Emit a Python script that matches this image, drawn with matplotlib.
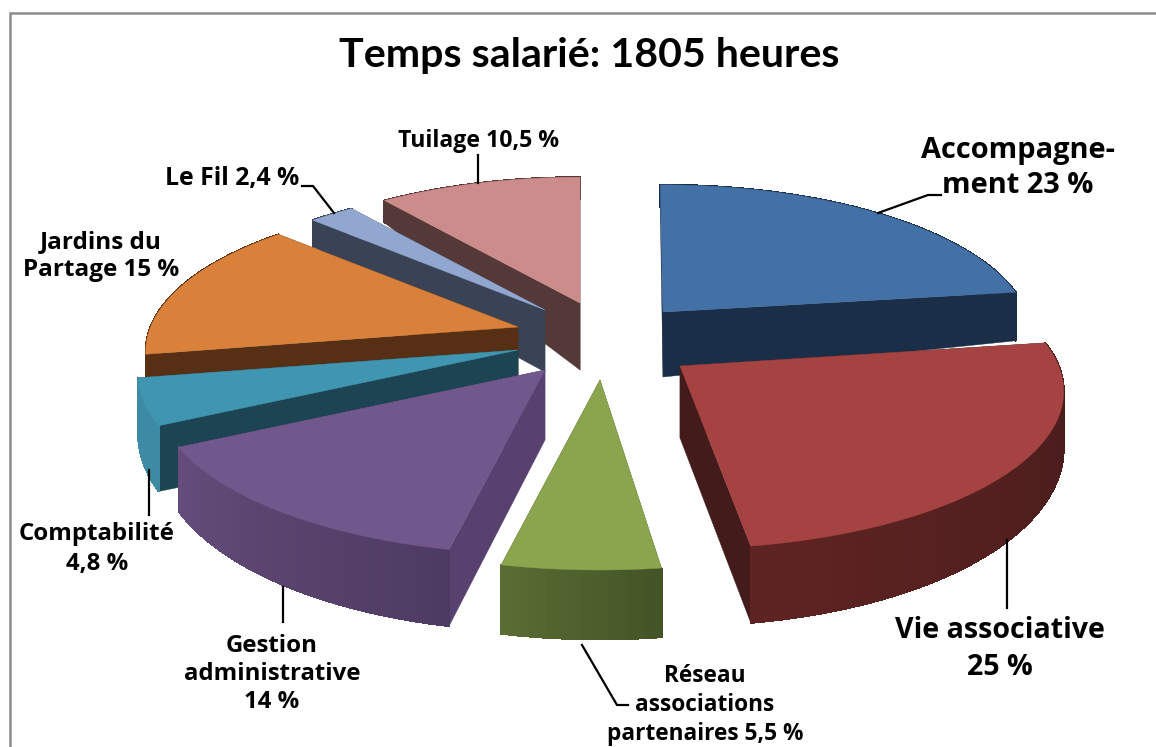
import numpy as np
import matplotlib
matplotlib.use("Agg")
import matplotlib.pyplot as plt
from matplotlib.patches import Polygon
from matplotlib.colors import to_rgb

# ---- data ----
title = "Temps salarié: 1805 heures"
categories = ["Accompagnement", "Vie associative", "Réseau associations partenaires",
              "Gestion administrative", "Comptabilité", "Jardins du Partage",
              "Le Fil", "Tuilage"]
values = [23, 25, 5.5, 14, 4.8, 15, 2.4, 10.5]
value_labels = ["Accompagne-\nment 23 %", "Vie associative\n25 %", "Réseau\nassociations\npartenaires 5,5 %",
                "Gestion\nadministrative\n14 %", "Comptabilité\n4,8 %", "Jardins du\nPartage 15 %",
                "Le Fil 2,4 %", "Tuilage 10,5 %"]

# ---- styling / layout ----
top_col = ["#4371a6", "#a54342", "#8aa54e", "#70578c", "#4096b0", "#d9803a", "#92a7cf", "#cd8c8c"]
rim_a = ["#1b2e47", "#5e2423", "#5a6e34", "#644d7b", "#3c8aa4", "#572f14", "#3a4356", "#553838"]
rim_b = ["#1b2e47", "#431a19", "#435426", "#4e3b62", "#3c8aa4", "#572f14", "#3a4356", "#553838"]
side_col = ["#1b2e47", "#431b1a", "#435426", "#57416f", "#1d4452", "#572f14", "#3a4356", "#553838"]
apex = [(663, 312), (680, 366), (600, 380), (545, 370), (518, 350), (518, 327), (545, 310), (580, 303)]
scale = [0.97, 1.01, 1.05, 1.02, 1.0, 0.98, 0.95, 0.96]
turn_deg = [-0.5, -1.5, 0, 0, 0, 0, 0, 0]
rim_scale = [1.0, 1.0, 0.9, 1.0, 1.03, 1.0, 1.0, 1.0]
apex_h = [65, 72, 65, 70, 68, 65, 62, 67]
draw_order = [7, 6, 5, 4, 3, 0, 1, 2]
RX, RY, P = 375, 152, 0.16
label_pos = [(1018, 168, 29), (1000, 649, 28.6), (705, 705, 22.6), (272, 674, 24),
             (97, 549, 24), (101, 256, 24.3), (232, 178, 24.7), (479, 141, 23)]
line_gap = [1.25, 1.36, 1.25, 1.25, 1.3, 1.25, 1.25, 1.25]
leaders = [[(878, 213), (928, 195), (941, 195)], [(1007, 540), (1007, 608)],
           [(582, 645), (617, 705), (628, 705)], [(283, 587), (283, 622)],
           [(149, 470), (149, 515)], [(334, 213), (313, 186), (302, 186)],
           [(478, 183), (478, 155)]]


def disc(t):
    s = 1 / (1 + P * np.cos(t))
    return RX * np.sin(t) * s, RY * np.cos(t) * s


def rim_height(t):
    return np.interp(np.cos(t), [-1, 0.1, 0.8, 1], [77, 50, 22, 22])


def mix(a, b, f):
    a, b = np.array(to_rgb(a)), np.array(to_rgb(b))
    return tuple(a + (b - a) * f)


fig = plt.figure(figsize=(11.56, 7.47), dpi=100, facecolor="white")
ax = fig.add_axes([0, 0, 1, 1])
ax.set_xlim(0, 1156)
ax.set_ylim(747, 0)
ax.axis("off")

ax.plot([9.5, 9.5, 1156], [747, 12.5, 12.5], color="#8c8c8c", lw=1.8, solid_joinstyle="miter")

fractions = np.array(values) / np.sum(values)
edges = np.concatenate([[0], np.cumsum(fractions)]) * 2 * np.pi

for n, i in enumerate(draw_order):
    t0, t1 = edges[i] + np.radians(turn_deg[i]), edges[i + 1] + np.radians(turn_deg[i])
    z = 10 + n * 2
    ax0, ay0 = apex[i]
    k = scale[i]
    ts = np.linspace(t0, t1, max(6, int((t1 - t0) / np.radians(1))))
    dx, dy = disc(ts)
    px, py = ax0 + k * dx, ay0 - k * dy
    hs = rim_height(ts) * rim_scale[i]
    # side walls
    for j in (0, -1):
        wall = [(ax0, ay0), (px[j], py[j]), (px[j], py[j] + hs[j]), (ax0, ay0 + apex_h[i])]
        ax.add_patch(Polygon(wall, closed=True, fc=side_col[i], ec=side_col[i], lw=0.3, zorder=z))
    # outer rim
    for j in range(len(ts) - 1):
        f = (ts[j] - t0) / (t1 - t0)
        c = mix(rim_a[i], rim_b[i], 1 - f)
        q = [(px[j], py[j]), (px[j + 1], py[j + 1]),
             (px[j + 1], py[j + 1] + hs[j + 1]), (px[j], py[j] + hs[j])]
        ax.add_patch(Polygon(q, closed=True, fc=c, ec=c, lw=0.8, antialiased=False, zorder=z + 0.5))
    # top face
    pts = np.column_stack([np.r_[ax0, px], np.r_[ay0, py]])
    ax.add_patch(Polygon(pts, closed=True, fc=top_col[i], ec=top_col[i], lw=0.3, zorder=z + 1))

for seg in leaders:
    xs, ys = zip(*seg)
    ax.plot(xs, ys, color="black", lw=1.6, zorder=40)

ax.text(589, 56, title, ha="center", va="center", fontsize=29.6, fontweight="bold",
        family="Lato", color="black")
for lab, (x, y, fs), gap in zip(value_labels, label_pos, line_gap):
    ax.text(x, y, lab, ha="center", va="center", fontsize=fs * 0.72, fontweight="bold",
            family="Open Sans", color="black", linespacing=gap, zorder=50)

fig.savefig("out.png", dpi=100, facecolor="white")
